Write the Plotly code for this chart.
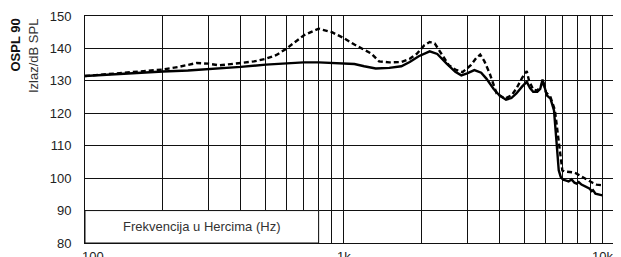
import math
import plotly.graph_objects as go

# Frequencies (Hz) and levels (dB SPL)
freq_solid = [100, 120, 150, 200, 250, 300, 400, 500, 600, 700, 800, 900, 1000, 1100, 1200,
              1330, 1500, 1670, 1800, 1950, 2150, 2300, 2500, 2700, 2850, 3000, 3200, 3400,
              3560, 3800, 4000, 4240, 4450, 4650, 4900, 5100, 5250, 5400, 5600, 5750, 5870,
              6000, 6100, 6300, 6500, 6650, 6780, 6900, 7050, 7200, 7400, 7600, 7800, 7950,
              8100, 8300, 8600, 8900, 9100, 9200, 9400, 9700, 10000]
spl_solid = [131.5, 131.9, 132.3, 132.9, 133.2, 133.6, 134.3, 135.0, 135.5, 135.7, 135.7, 135.6,
             135.5, 135.2, 134.5, 133.8, 134.0, 134.5, 135.8, 137.6, 139.1, 138.3, 135.3, 132.8,
             131.7, 132.3, 133.3, 132.5, 130.7, 127.5, 125.5, 124.2, 124.7, 126.1, 128.3, 129.7,
             127.8, 126.6, 126.6, 127.5, 130.4, 127.5, 125.5, 124.5, 120.9, 111.0, 102.4, 100.4,
             99.5, 99.3, 99.0, 99.6, 98.6, 98.3, 98.8, 98.0, 97.5, 96.8, 96.0, 96.3, 95.2, 95.0,
             94.7]

freq_dash = [100, 120, 150, 200, 230, 270, 300, 330, 400, 450, 500, 550, 600, 700, 800, 900,
             1000, 1100, 1280, 1370, 1500, 1670, 1800, 1920, 2050, 2150, 2250, 2340, 2550, 2700,
             2880, 3100, 3250, 3370, 3500, 3670, 3900, 4200, 4450, 4650, 4900, 5100, 5200, 5400,
             5600, 5800, 5900, 6050, 6300, 6550, 6750, 7000, 7200, 7400, 7700, 7950, 8300, 8600,
             9000, 9200, 9500, 10000]
spl_dash = [131.5, 132.0, 132.5, 133.5, 134.3, 135.5, 135.3, 134.8, 135.5, 136.0, 136.8, 138.0,
            139.9, 144.0, 146.1, 145.0, 143.2, 141.2, 138.4, 136.0, 135.7, 135.8, 136.8, 138.4,
            141.0, 142.0, 141.5, 139.4, 134.8, 133.5, 132.7, 134.8, 137.0, 138.1, 136.0, 132.2,
            126.1, 124.5, 125.5, 127.6, 131.0, 133.0, 130.2, 127.3, 127.0, 128.5, 130.0, 126.5,
            125.0, 121.0, 112.0, 102.4, 102.0, 101.9, 101.8, 101.4, 100.5, 99.8, 99.0, 98.5,
            98.0, 97.8]

grid_freqs = [100, 200, 300, 400, 500, 600, 700, 800, 900,
              1000, 2000, 3000, 4000, 5000, 6000, 7000, 8000, 9000, 10000]
y_ticks = [80, 90, 100, 110, 120, 130, 140, 150]
x_labels = ["100", "1k", "10k"]
x_label_freqs = [100, 1000, 10000]

FONT = "Liberation Sans"

# page has an 8px body margin: compensate
W, H = 613, 249
ml, mr, mt, mb = 77, 1, 8, 14
PW, PH = W - ml - mr, H - mt - mb

fig = go.Figure()
fig.add_trace(go.Scatter(x=freq_dash, y=spl_dash, mode="lines",
                         line=dict(color="#000", width=2.4, dash="5px,3px"), showlegend=False))
fig.add_trace(go.Scatter(x=freq_solid, y=spl_solid, mode="lines",
                         line=dict(color="#000", width=2.4), showlegend=False))

# white label box in the lower-left corner
fig.add_shape(type="rect", xref="x", yref="y", x0=100, x1=800, y0=80, y1=90,
              fillcolor="white", line=dict(color="#111", width=1), layer="above")
fig.add_annotation(x=math.log10(100 * 800) / 2, y=85, xref="x", yref="y",
                   text="Frekvencija u Hercima (Hz)", showarrow=False,
                   font=dict(family=FONT, size=13, color="#333"))

for f, lab in zip(x_label_freqs, x_labels):
    fig.add_annotation(x=math.log10(f), y=0, xref="x", yref="paper", text=lab,
                       showarrow=False, yanchor="top", yshift=-4,
                       xshift=8 if f == 100 else 0,
                       font=dict(family=FONT, size=13, color="#222"))


def px_to_paper(px, py):
    return (px - ml) / PW, 1 - (py - mt) / PH


ox, oy = px_to_paper(15 - 8, 17 - 8)
fig.add_annotation(x=ox, y=oy, xref="paper", yref="paper", text="<b>OSPL 90</b>",
                   textangle=-90, showarrow=False, xanchor="center", yanchor="top",
                   font=dict(family=FONT, size=13, color="#111"))
ix, iy = px_to_paper(33 - 8, 17 - 8)
fig.add_annotation(x=ix, y=iy, xref="paper", yref="paper", text="Izlaz/dB SPL",
                   textangle=-90, showarrow=False, xanchor="center", yanchor="top",
                   font=dict(family=FONT, size=13, color="#333"))

fig.update_layout(
    width=W, height=H,
    margin=dict(l=ml, r=mr, t=mt, b=mb, pad=0),
    paper_bgcolor="white", plot_bgcolor="white",
    font=dict(family=FONT, size=13, color="#222"),
    xaxis=dict(type="log", range=[2, 2 + PW / 258.7],
               tickvals=grid_freqs, showticklabels=False, ticks="",
               showgrid=True, gridcolor="#111", gridwidth=1,
               showline=True, linecolor="#111", linewidth=1, mirror=True,
               zeroline=False),
    yaxis=dict(range=[80, 150], tickvals=y_ticks, ticks="",
               showgrid=True, gridcolor="#111", gridwidth=1,
               showline=True, linecolor="#111", linewidth=1,
               zeroline=False, ticklabelstandoff=10,
               tickfont=dict(family=FONT, size=13, color="#222")),
)

fig.write_html("out.html")
